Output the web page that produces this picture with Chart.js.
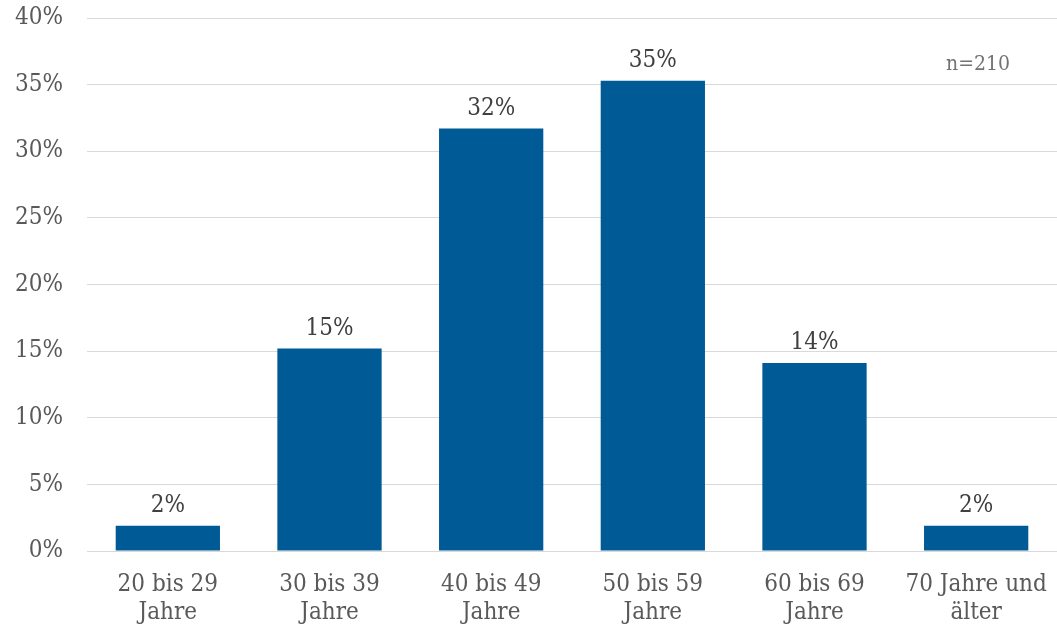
<!DOCTYPE html>
<html>
<head>
<meta charset="utf-8">
<script src="https://cdn.jsdelivr.net/npm/chart.js@4"></script>
<style>
  html, body { margin: 0; padding: 0; background: #fff; }
  #wrap { width: 1057px; height: 633px; }
</style>
</head>
<body>
<div id="wrap"><canvas id="ageChart"></canvas></div>
<script>
// Altersgruppen
const categories = [
    ["20 bis 29", "Jahre"],
    ["30 bis 39", "Jahre"],
    ["40 bis 49", "Jahre"],
    ["50 bis 59", "Jahre"],
    ["60 bis 69", "Jahre"],
    ["70 Jahre und", "älter"]
];
const shares = [1.9, 15.2, 31.7, 35.3, 14.1, 1.9];
const shareLabels = ["2%", "15%", "32%", "35%", "14%", "2%"];
const sampleNote = "n=210";

const fontFamily = "'DejaVu Serif Condensed', 'DejaVu Serif', serif";

// draws the value over each bar and the n= note
const labelPlugin = {
    id: "labelPlugin",
    afterDatasetsDraw(chart) {
        const ctx = chart.ctx;
        const meta = chart.getDatasetMeta(0);
        ctx.save();
        ctx.font = "24px " + fontFamily;
        ctx.fillStyle = "#404040";
        ctx.textAlign = "center";
        ctx.textBaseline = "bottom";
        meta.data.forEach(function (bar, i) {
            ctx.fillText(shareLabels[i], bar.x, bar.y - 8);
        });
        ctx.font = "21px " + fontFamily;
        ctx.fillStyle = "#767171";
        const yScale = chart.scales.y;
        ctx.textBaseline = "middle";
        ctx.fillText(sampleNote, 978, yScale.getPixelForValue(36.5));
        ctx.restore();
    }
};

new Chart(document.getElementById("ageChart"), {
    type: "bar",
    data: {
        labels: categories,
        datasets: [{
            data: shares,
            backgroundColor: "#005a96",
            borderWidth: 0,
            barPercentage: 0.645,
            categoryPercentage: 1.0
        }]
    },
    options: {
        responsive: true,
        maintainAspectRatio: false,
        animation: false,
        layout: { padding: { top: 18, right: 0, left: 0, bottom: 0 } },
        plugins: {
            legend: { display: false },
            tooltip: { enabled: false }
        },
        scales: {
            x: {
                grid: { display: false, drawTicks: false },
                border: { display: true, color: "#d9d9d9", width: 1 },
                ticks: {
                    color: "#595959",
                    font: { family: fontFamily, size: 24, lineHeight: 1.15 },
                    padding: 20,
                    maxRotation: 0,
                    autoSkip: false
                },
                afterFit(scale) {
                    scale.height = 82;
                    scale.paddingLeft = 0;
                    scale.paddingRight = 0;
                }
            },
            y: {
                min: 0,
                max: 40,
                grid: { color: "#d9d9d9", drawTicks: false },
                border: { display: false },
                ticks: {
                    stepSize: 5,
                    color: "#595959",
                    font: { family: fontFamily, size: 24 },
                    padding: 24,
                    callback: function (v) { return v + "%"; }
                },
                afterFit(scale) {
                    scale.width = 87;
                    scale.paddingTop = 0;
                    scale.paddingBottom = 0;
                }
            }
        }
    },
    plugins: [labelPlugin]
});
</script>
</body>
</html>
